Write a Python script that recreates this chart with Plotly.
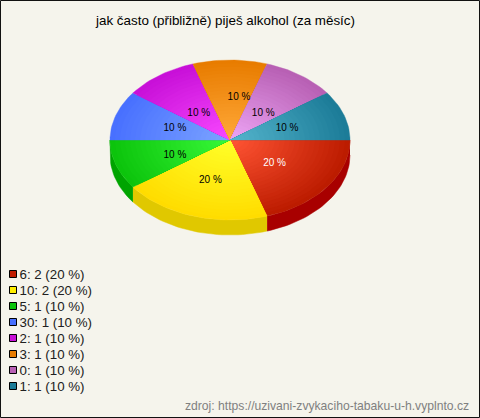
import math
import plotly.graph_objects as go

TITLE = "jak často (přibližně) piješ alkohol (za měsíc)"
SOURCE = "zdroj: https://uzivani-zvykaciho-tabaku-u-h.vyplnto.cz"
categories = ["6", "10", "5", "30", "2", "3", "0", "1"]
counts = [2, 2, 1, 1, 1, 1, 1, 1]
percents = [20, 20, 10, 10, 10, 10, 10, 10]

rim_colors = ["#bc1c00", "#ffdc00", "#0cc40c", "#4870ff", "#c810d8", "#e87c00", "#b860b4", "#1c7c98"]
core_colors = ["#ff5434", "#ffff28", "#38f838", "#7ca4ff", "#f848ff", "#ffa838", "#eca4f4", "#54b4cc"]
side_colors = ["#a80000", "#e0c800", "#00a400", "#3050c0", "#9000a0", "#b06000", "#904890", "#105868"]
label_colors = ["white"] + ["black"] * 7
swatch_colors = ["#c01c00", "#ffee00", "#0cc40c", "#4870ff", "#c810d8", "#e87c00", "#b860b4", "#1c7c98"]
label_dx = [-4, -1, 2, 2, 4, 9, -2, 0]
label_dy = [-1, 1, 2, 0, 5, -4, 5, 0]

W, H = 480, 418
CX, CY, RX, RY, DEPTH = 230, 140, 120, 80, 15
RINGS = 24
FONT = "Liberation Sans"


def hex_rgb(c):
    return tuple(int(c[i:i + 2], 16) for i in (1, 3, 5))


def mix(a, b, t):
    ra, rb = hex_rgb(a), hex_rgb(b)
    return "rgb(%d,%d,%d)" % tuple(round(p + (q - p) * t) for p, q in zip(ra, rb))


def arc(a0, a1, scale=1.0, dy=0.0):
    n = max(2, int(abs(a1 - a0) / 2) + 1)
    angs = [math.radians(a0 + (a1 - a0) * i / (n - 1)) for i in range(n)]
    return ([CX + RX * scale * math.cos(a) for a in angs],
            [CY + dy + RY * scale * math.sin(a) for a in angs])


fig = go.Figure()
total = sum(counts)
start = 0.0
spans = []
for c in counts:
    end = start + 360.0 * c / total
    spans.append((start, end))
    start = end

# side wall
for (a0, a1), col in zip(spans, side_colors):
    lo, hi = max(a0, 0), min(a1, 180)
    if lo >= hi:
        continue
    xt, yt = arc(lo, hi)
    xb, yb = arc(hi, lo, dy=DEPTH)
    fig.add_trace(go.Scatter(x=xt + xb, y=yt + yb, mode="lines", fill="toself", fillcolor=col,
                             line=dict(width=0.5, color=col), hoverinfo="skip", showlegend=False))

# top faces, painted as shrinking wedges so that each lightens to the centre
for (a0, a1), rim, core in zip(spans, rim_colors, core_colors):
    for r in range(RINGS):
        t = r / (RINGS - 1)
        col = mix(rim, core, t)
        xa, ya = arc(a0, a1, scale=1 - t * 0.96)
        fig.add_trace(go.Scatter(x=[CX] + xa + [CX], y=[CY] + ya + [CY], mode="lines", fill="toself",
                                 fillcolor=col, line=dict(width=0.4 if r == 0 else 0, color=col),
                                 hoverinfo="skip", showlegend=False))

# percentage labels
lx, ly = [], []
for (a0, a1), dx, dy in zip(spans, label_dx, label_dy):
    m = math.radians((a0 + a1) / 2)
    lx.append(CX + RX * 0.5 * math.cos(m) + dx)
    ly.append(CY + 1 + RY * 0.5 * math.sin(m) + dy)
fig.add_trace(go.Scatter(x=lx, y=ly, mode="text", text=[f"{p} %" for p in percents],
                         textposition="middle center",
                         textfont=dict(family=FONT, size=10, color=label_colors),
                         hoverinfo="skip", showlegend=False))

# legend
leg_y = [275 + 16 * i for i in range(len(categories))]
fig.add_trace(go.Scatter(x=[13] * len(categories), y=[v - 1 for v in leg_y], mode="markers",
                         marker=dict(symbol="square", size=7, color=swatch_colors,
                                     line=dict(width=1, color="black")),
                         hoverinfo="skip", showlegend=False))
fig.add_trace(go.Scatter(x=[19.5] * len(categories), y=[v + 1 for v in leg_y], mode="text",
                         text=[f"{c}: {n} ({p} %)" for c, n, p in zip(categories, counts, percents)],
                         textposition="middle right",
                         textfont=dict(family=FONT, size=13.3, color="#202020"),
                         hoverinfo="skip", showlegend=False))

fig.update_layout(
    width=W, height=H, margin=dict(l=0, r=0, t=0, b=0),
    paper_bgcolor="#f5f4ec", plot_bgcolor="#f5f4ec", showlegend=False,
    xaxis=dict(range=[0, W], visible=False, fixedrange=True),
    yaxis=dict(range=[H, 0], visible=False, fixedrange=True),
    shapes=[dict(type="rect", xref="x", yref="y", x0=0.5, y0=0.5, x1=W - 0.5, y1=H - 0.5,
                 line=dict(color="#111111", width=1), fillcolor="rgba(0,0,0,0)", layer="above")],
    annotations=[
        dict(text=TITLE, xref="x", yref="y", x=225, y=20, showarrow=False, xanchor="center",
             yanchor="middle", font=dict(family=FONT, size=13.4, color="black")),
        dict(text=SOURCE, xref="x", yref="y", x=470.5, y=406, showarrow=False, xanchor="right",
             yanchor="middle", font=dict(family=FONT, size=12.15, color="#808080")),
    ],
)
fig.write_html("out.html", config=dict(displayModeBar=False, staticPlot=True),
               post_script="document.body.style.margin='0';document.body.style.overflow='hidden';")
